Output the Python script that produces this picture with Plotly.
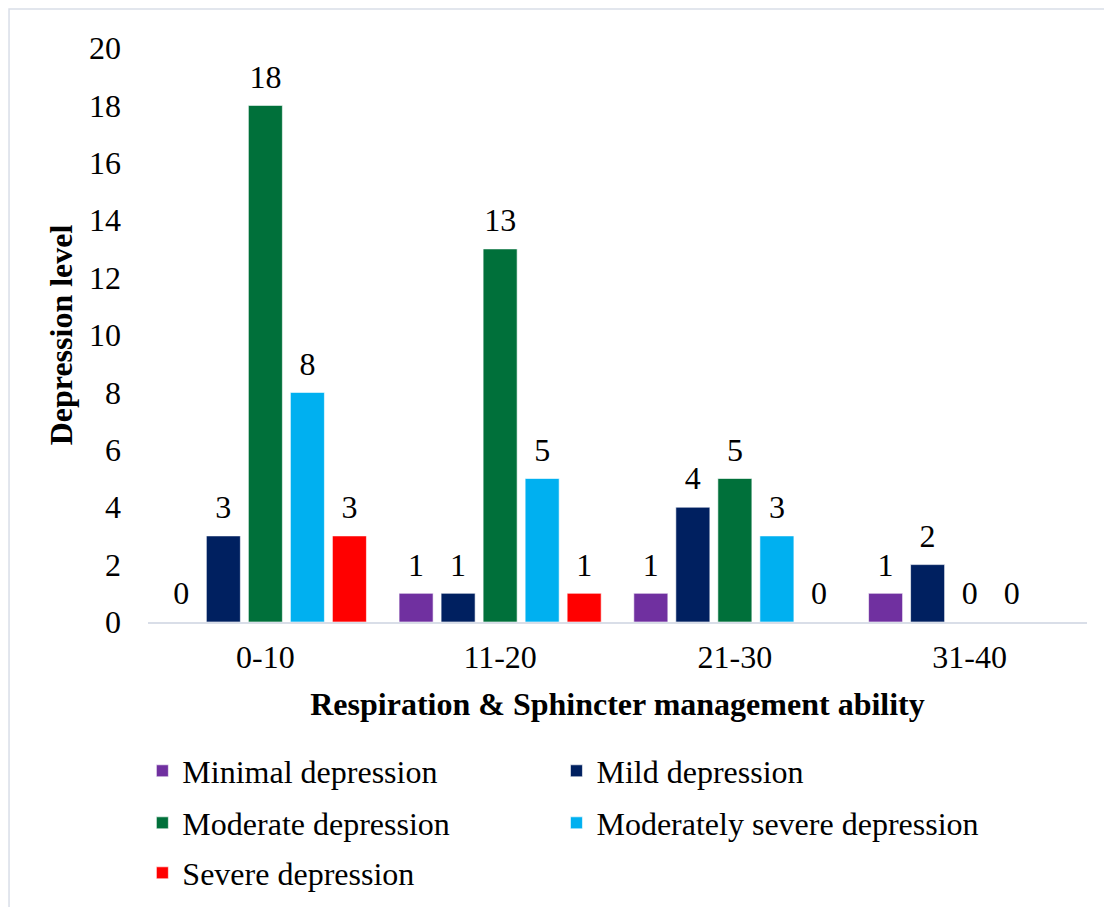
import plotly.graph_objects as go

categories = ["0-10", "11-20", "21-30", "31-40"]
series_names = [
    "Minimal depression",
    "Mild depression",
    "Moderate depression",
    "Moderately severe depression",
    "Severe depression",
]
minimal = [0, 1, 1, 1]
mild = [3, 1, 4, 2]
moderate = [18, 13, 5, 0]
moderately_severe = [8, 5, 3, 0]
severe = [3, 1, 0, None]
y_ticks = [0, 2, 4, 6, 8, 10, 12, 14, 16, 18, 20]

COLORS = ["#7030A0", "#002060", "#00703A", "#00B0F0", "#FF0000"]
FONT = "Liberation Serif, Times New Roman, serif"
# one legend per entry so the legend reads as two columns
LEGENDS = ["legend", "legend2", "legend3", "legend4", "legend5"]

fig = go.Figure()
for i, (name, values, color, legend) in enumerate(
    zip(series_names, [minimal, mild, moderate, moderately_severe, severe], COLORS, LEGENDS)
):
    fig.add_trace(
        go.Bar(
            x=categories,
            y=values,
            name=name,
            legend=legend,
            offsetgroup=str(i),
            marker={"color": color, "line": {"color": "rgba(255,255,255,0.6)", "width": 1}},
        )
    )
    # value labels: text-only points grouped like the bars, lifted by an invisible marker
    fig.add_trace(
        go.Scatter(
            x=categories,
            y=values,
            mode="markers+text",
            offsetgroup=str(i),
            text=["" if v is None else str(v) for v in values],
            textposition="top center",
            textfont={"size": 32, "color": "#000000", "family": FONT},
            marker={"size": 14, "color": "rgba(0,0,0,0)"},
            showlegend=False,
            hoverinfo="skip",
            cliponaxis=False,
        )
    )

legend_style = {
    "orientation": "h",
    "xanchor": "left",
    "yanchor": "middle",
    "font": {"size": 32, "family": FONT},
    "bgcolor": "rgba(0,0,0,0)",
}
col_x = [-0.006, 0.435]
row_y = [-0.2596, -0.3502, -0.4373]

fig.update_layout(
    width=1104,
    height=899,
    paper_bgcolor="#ffffff",
    plot_bgcolor="#ffffff",
    font={"family": FONT, "size": 32, "color": "#000000"},
    margin={"l": 140, "r": 25, "t": 40, "b": 285, "autoexpand": False},
    barmode="group",
    bargap=0.105,
    bargroupgap=0.19,
    scattermode="group",
    scattergap=0.105,
    showlegend=True,
    legend={**legend_style, "x": col_x[0], "y": row_y[0]},
    legend2={**legend_style, "x": col_x[1], "y": row_y[0]},
    legend3={**legend_style, "x": col_x[0], "y": row_y[1]},
    legend4={**legend_style, "x": col_x[1], "y": row_y[1]},
    legend5={**legend_style, "x": col_x[0], "y": row_y[2]},
    xaxis={
        "showgrid": False,
        "showline": True,
        "linecolor": "#D9DEE8",
        "linewidth": 2,
        "ticks": "",
        "ticklabelstandoff": 6,
        "tickfont": {"size": 32},
        "title": {
            "text": "<b>Respiration & Sphincter management ability</b>",
            "font": {"size": 32},
            "standoff": 18,
        },
    },
    yaxis={
        "range": [0, 20],
        "tickvals": y_ticks,
        "showgrid": False,
        "zeroline": False,
        "showline": False,
        "ticklabelstandoff": 26,
        "tickfont": {"size": 32},
        "title": {
            "text": "<b>Depression level</b>",
            "font": {"size": 32},
            "standoff": 6,
        },
    },
    shapes=[
        {
            "type": "rect",
            "xref": "paper",
            "yref": "paper",
            "x0": -0.148,
            "x1": 1.2,
            "y0": -0.7,
            "y1": 1.068,
            "line": {"color": "#D9DEE8", "width": 1.5},
            "fillcolor": "rgba(0,0,0,0)",
            "layer": "below",
        }
    ],
)

fig.write_html("out.html")
